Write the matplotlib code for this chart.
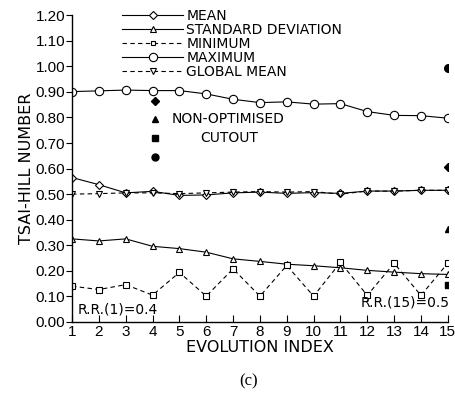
import numpy as np
import matplotlib.pyplot as plt
from matplotlib.lines import Line2D

plt.rcParams['font.family'] = ['Liberation Sans', 'DejaVu Sans']

# evolution index
idx = np.arange(1, 16)

# series
mean = [0.565, 0.537, 0.505, 0.511, 0.495, 0.497, 0.505, 0.508, 0.503, 0.506,
        0.503, 0.512, 0.512, 0.515, 0.515]
std_dev = [0.325, 0.317, 0.325, 0.296, 0.287, 0.273, 0.247, 0.237, 0.226, 0.220,
           0.212, 0.202, 0.195, 0.189, 0.186]
minimum = [0.140, 0.127, 0.146, 0.105, 0.194, 0.101, 0.208, 0.101, 0.221, 0.101,
           0.233, 0.104, 0.230, 0.104, 0.230]
maximum = [0.901, 0.904, 0.907, 0.905, 0.905, 0.892, 0.871, 0.858, 0.861, 0.852,
           0.854, 0.823, 0.808, 0.807, 0.797]
global_mean = [0.500, 0.502, 0.505, 0.505, 0.502, 0.505, 0.508, 0.510, 0.508, 0.510,
               0.500, 0.512, 0.512, 0.515, 0.515]

# non-optimised cutout values at index 15
non_opt_x = 15
non_opt = {'max': 0.995, 'mean': 0.605, 'std': 0.365, 'min': 0.145}
# key markers for the non-optimised group
key_x = 4.1
key_y = {'mean': 0.865, 'std': 0.795, 'min': 0.720, 'max': 0.645}

fig = plt.figure(figsize=(4.56, 3.99), dpi=100)
ax = fig.add_axes([0.158, 0.193, 0.824, 0.769])

lw = 0.8
ax.plot(idx, maximum, 'k-', lw=lw, marker='o', ms=6, mfc='w', mew=0.8)
ax.plot(idx, mean, 'k-', lw=lw, marker='D', ms=4.5, mfc='w', mew=0.8)
ax.plot(idx, global_mean, 'k--', lw=lw, marker='v', ms=5, mfc='w', mew=0.8, dashes=(4, 3))
ax.plot(idx, std_dev, 'k-', lw=lw, marker='^', ms=5, mfc='w', mew=0.8)
ax.plot(idx, minimum, 'k--', lw=lw, marker='s', ms=4, mfc='w', mew=0.8, dashes=(4, 3))

ax.plot(non_opt_x, non_opt['max'], 'ko', ms=5.5)
ax.plot(non_opt_x, non_opt['mean'], 'kD', ms=4)
ax.plot(non_opt_x, non_opt['std'], 'k^', ms=5)
ax.plot(non_opt_x, non_opt['min'], 'ks', ms=4)

ax.plot(key_x, key_y['mean'], 'kD', ms=4)
ax.plot(key_x, key_y['std'], 'k^', ms=5)
ax.plot(key_x, key_y['min'], 'ks', ms=4)
ax.plot(key_x, key_y['max'], 'ko', ms=5)
ax.text(4.7, key_y['std'], 'NON-OPTIMISED', fontsize=10, family='DejaVu Sans',
        va='center', ha='left')
ax.text(6.85, key_y['min'], 'CUTOUT', fontsize=10, family='DejaVu Sans',
        va='center', ha='center')

ax.text(1.2, 0.047, 'R.R.(1)=0.4', fontsize=10, family='DejaVu Sans', ha='left', va='center')
ax.text(15.05, 0.075, 'R.R.(15)=0.5', fontsize=10, family='DejaVu Sans', ha='right', va='center')

handles = [
    Line2D([], [], color='k', lw=lw, marker='D', ms=4.5, mfc='w', mew=0.8),
    Line2D([], [], color='k', lw=lw, marker='^', ms=4.5, mfc='w', mew=0.8),
    Line2D([], [], color='k', lw=lw, ls='--', dashes=(4, 3), marker='s', ms=3.5, mfc='w', mew=0.8),
    Line2D([], [], color='k', lw=lw, marker='o', ms=6, mfc='w', mew=0.8),
    Line2D([], [], color='k', lw=lw, ls='--', dashes=(4, 3), marker='v', ms=5, mfc='w', mew=0.8),
]
labels = ['MEAN', 'STANDARD DEVIATION', 'MINIMUM', 'MAXIMUM', 'GLOBAL MEAN']
fig.legend(handles, labels, loc='upper left', bbox_to_anchor=(0.262, 0.985),
           frameon=False, prop={'family': 'DejaVu Sans', 'size': 10},
           handlelength=4.4, handletextpad=0.2,
           labelspacing=0.0, borderpad=0.2, borderaxespad=0)

ax.set_xlim(1, 15)
ax.set_ylim(0, 1.2)
ax.set_xticks(idx)
ax.set_yticks(np.arange(0, 1.21, 0.1))
ax.set_yticklabels([f'{v:.2f}' for v in np.arange(0, 1.21, 0.1)])
ax.tick_params(axis='x', direction='in', length=5, width=0.8, labelsize=11, pad=2)
ax.tick_params(axis='y', direction='out', length=4, width=0.8, labelsize=11, pad=1)
for s in ['top', 'right']:
    ax.spines[s].set_visible(False)
for s in ['left', 'bottom']:
    ax.spines[s].set_linewidth(1.0)

ax.set_xlabel('EVOLUTION INDEX', fontsize=11.5, family='DejaVu Sans', labelpad=1)
ax.set_ylabel('TSAI-HILL NUMBER', fontsize=11.5, family='DejaVu Sans', labelpad=1)
fig.text(0.545, 0.035, '(c)', fontsize=12, family='Liberation Serif', ha='center')

fig.savefig('out.png', dpi=100)
